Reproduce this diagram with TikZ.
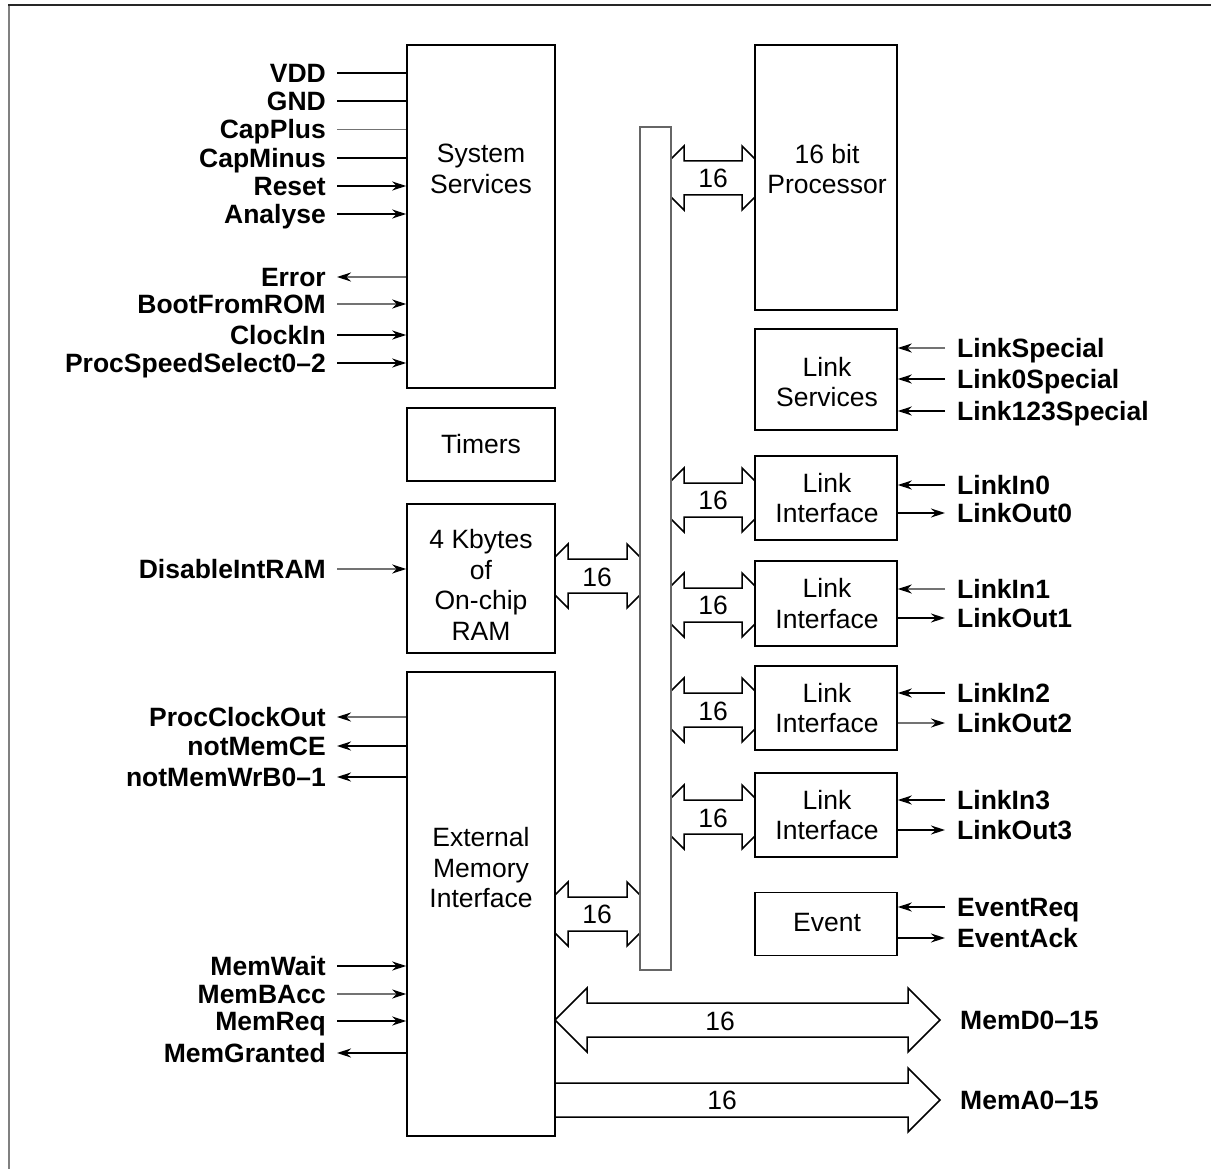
\documentclass[tikz,border=0pt]{standalone}
\usepackage{fontspec}
\setmainfont{Liberation Sans}
\usetikzlibrary{arrows.meta}
\newcommand\dblbus[4]{%
 \draw[bus] ({#1+#4-32},#3) -- ({#1+#4},{#3-32}) -- ({#1+#4},{#3-17}) -- ({#2-#4},{#3-17}) -- ({#2-#4},{#3-32}) -- ({#2-#4+32},#3) -- ({#2-#4},{#3+32}) -- ({#2-#4},{#3+17}) -- ({#1+#4},{#3+17}) -- ({#1+#4},{#3+32}) -- cycle;}
\begin{document}
\begin{tikzpicture}[x=1pt,y=-1pt,
  blk/.style={draw, line width=1.6pt, fill=white, inner sep=0pt},
  txt/.style={font=\fontsize{26.5}{30.5}\selectfont, align=center, inner sep=0pt},
  lbl/.style={font=\fontsize{26.5}{30.5}\selectfont\bfseries, inner sep=0pt, text height=19pt, text depth=0pt},
  lblL/.style={lbl, anchor=east},
  lblR/.style={lbl, anchor=west},
  num/.style={font=\fontsize{26.5}{30.5}\selectfont, inner sep=0pt, text height=19pt, text depth=0pt},
  sig/.style={line width=1.5pt},
  thinl/.style={line width=1.1pt, draw=black!55},
  sigin/.style={sig, -{Stealth[length=14pt,width=9pt,color=black]}},
  bus/.style={draw, line width=1.5pt, fill=white, line join=miter}
]
\useasboundingbox (0,0) rectangle (1211,1169);
% frame
\draw[line width=1.6pt, black!50] (9,5) -- (9,1169);
\draw[line width=1.6pt, black!85] (8,5) -- (1211,5);

% bus arrows (under boxes)
\dblbus{671}{755}{178}{13}
\dblbus{555}{640}{576}{13}
\dblbus{555}{640}{914}{13}
\dblbus{671}{755}{500}{13}
\dblbus{671}{755}{605}{13}
\dblbus{671}{755}{710}{13}
\dblbus{671}{755}{817}{13}
\dblbus{555}{940}{1020}{32}
\draw[bus] (555,1083) -- (908,1083) -- (908,1068) -- (940,1100) -- (908,1132) -- (908,1117) -- (555,1117);

% boxes
\node[blk, minimum width=148pt, minimum height=343pt] (sys) at (481,216.5) {};
\node[blk, minimum width=148pt, minimum height=73pt] (tim) at (481,444.5) {};
\node[blk, minimum width=148pt, minimum height=149pt] (ram) at (481,578.5) {};
\node[blk, minimum width=148pt, minimum height=464pt] (emi) at (481,904) {};
\node[draw=black!60, line width=1.2pt, fill=white, inner sep=0pt, minimum width=31pt, minimum height=843pt] (bar) at (655.5,548.5) {};
\node[blk, minimum width=142pt, minimum height=265pt] (proc) at (826,177.5) {};
\node[blk, minimum width=142pt, minimum height=101pt] (lsv) at (826,379.5) {};
\node[blk, minimum width=142pt, minimum height=84pt] (li0) at (826,498) {};
\node[blk, minimum width=142pt, minimum height=85pt] (li1) at (826,603.5) {};
\node[blk, minimum width=142pt, minimum height=84pt] (li2) at (826,708) {};
\node[blk, minimum width=142pt, minimum height=84pt] (li3) at (826,815) {};
\node[blk, minimum width=142pt, minimum height=63pt] (ev) at (826,924) {};

% box texts
\node[txt] (systx) at (481,169) {System\\Services};
\node[txt] (timtx) at (481,444.5) {Timers};
\node[txt] (ramtx) at (481,585) {4 Kbytes\\of\\On-chip\\RAM};
\node[txt] (emitx) at (481,868) {External\\Memory\\Interface};
\node[txt] (proctx) at (827,169) {16 bit\\Processor};
\node[txt] (lsvtx) at (827,382) {Link\\Services};
\node[txt] (li0tx) at (827,498) {Link\\Interface};
\node[txt] (li1tx) at (827,603.5) {Link\\Interface};
\node[txt] (li2tx) at (827,708) {Link\\Interface};
\node[txt] (li3tx) at (827,815) {Link\\Interface};
\node[txt] (evtx) at (827,923) {Event};

% bus widths
\node[num] (n1) at (713,178) {16};
\node[num] (n2) at (597,577) {16};
\node[num] (n3) at (597,914) {16};
\node[num] (n4) at (713,500) {16};
\node[num] (n5) at (713,605) {16};
\node[num] (n6) at (713,711) {16};
\node[num] (n7) at (713,818) {16};
\node[num] (n8) at (720,1021) {16};
\node[num] (n9) at (722,1100) {16};

% left labels: system services
\node[lblL] (vdd) at (326,73) {VDD};
\node[lblL] (gnd) at (326,101) {GND};
\node[lblL] (cpp) at (326,129.5) {CapPlus};
\node[lblL] (cpm) at (326,158) {CapMinus};
\node[lblL] (rst) at (326,186) {Reset};
\node[lblL] (ana) at (326,214) {Analyse};
\node[lblL] (err) at (326,277) {Error};
\node[lblL] (bfr) at (326,304) {BootFromROM};
\node[lblL] (clk) at (326,335) {ClockIn};
\node[lblL] (pss) at (326,363) {ProcSpeedSelect0–2};
\draw[sig] ([xshift=11pt]vdd.east) -- (vdd.east -| sys.west);
\draw[sig] ([xshift=11pt]gnd.east) -- (gnd.east -| sys.west);
\draw[thinl] ([xshift=11pt]cpp.east) -- (cpp.east -| sys.west);
\draw[sig] ([xshift=11pt]cpm.east) -- (cpm.east -| sys.west);
\draw[sigin] ([xshift=11pt]rst.east) -- (rst.east -| sys.west);
\draw[sigin] ([xshift=11pt]ana.east) -- (ana.east -| sys.west);
\draw[sigin, thinl] (err.east -| sys.west) -- ([xshift=11pt]err.east);
\draw[sigin, thinl] ([xshift=11pt]bfr.east) -- (bfr.east -| sys.west);
\draw[sigin] ([xshift=11pt]clk.east) -- (clk.east -| sys.west);
\draw[sigin] ([xshift=11pt]pss.east) -- (pss.east -| sys.west);

% RAM
\node[lblL] (dir) at (326,569) {DisableIntRAM};
\draw[sigin, thinl] ([xshift=11pt]dir.east) -- (dir.east -| ram.west);

% external memory interface
\node[lblL] (pco) at (326,717) {ProcClockOut};
\node[lblL] (mce) at (326,746) {notMemCE};
\node[lblL] (mwr) at (326,777) {notMemWrB0–1};
\node[lblL] (mwt) at (326,966) {MemWait};
\node[lblL] (mba) at (326,994) {MemBAcc};
\node[lblL] (mrq) at (326,1021) {MemReq};
\node[lblL] (mgr) at (326,1053) {MemGranted};
\draw[sigin, thinl] (pco.east -| emi.west) -- ([xshift=11pt]pco.east);
\draw[sigin] (mce.east -| emi.west) -- ([xshift=11pt]mce.east);
\draw[sigin] (mwr.east -| emi.west) -- ([xshift=11pt]mwr.east);
\draw[sigin] ([xshift=11pt]mwt.east) -- (mwt.east -| emi.west);
\draw[sigin, thinl] ([xshift=11pt]mba.east) -- (mba.east -| emi.west);
\draw[sigin] ([xshift=11pt]mrq.east) -- (mrq.east -| emi.west);
\draw[sigin] (mgr.east -| emi.west) -- ([xshift=11pt]mgr.east);

% right labels
\node[lblR] (lsp) at (957,348) {LinkSpecial};
\node[lblR] (l0s) at (957,379) {Link0Special};
\node[lblR] (l123) at (957,411) {Link123Special};
\draw[sigin, thinl] ([xshift=-12pt]lsp.west) -- (lsp.west -| lsv.east);
\draw[sigin] ([xshift=-12pt]l0s.west) -- (l0s.west -| lsv.east);
\draw[sigin] ([xshift=-12pt]l123.west) -- (l123.west -| lsv.east);

\node[lblR] (lin0) at (957,485) {LinkIn0};
\node[lblR] (lout0) at (957,513) {LinkOut0};
\node[lblR] (lin1) at (957,589) {LinkIn1};
\node[lblR] (lout1) at (957,618) {LinkOut1};
\node[lblR] (lin2) at (957,693) {LinkIn2};
\node[lblR] (lout2) at (957,723) {LinkOut2};
\node[lblR] (lin3) at (957,800) {LinkIn3};
\node[lblR] (lout3) at (957,830) {LinkOut3};
\draw[sigin] ([xshift=-12pt]lin0.west) -- (lin0.west -| li0.east);
\draw[sigin] (lout0.west -| li0.east) -- ([xshift=-12pt]lout0.west);
\draw[sigin, thinl] ([xshift=-12pt]lin1.west) -- (lin1.west -| li1.east);
\draw[sigin] (lout1.west -| li1.east) -- ([xshift=-12pt]lout1.west);
\draw[sigin] ([xshift=-12pt]lin2.west) -- (lin2.west -| li2.east);
\draw[sigin, thinl] (lout2.west -| li2.east) -- ([xshift=-12pt]lout2.west);
\draw[sigin] ([xshift=-12pt]lin3.west) -- (lin3.west -| li3.east);
\draw[sigin] (lout3.west -| li3.east) -- ([xshift=-12pt]lout3.west);

\node[lblR] (erq) at (957,907) {EventReq};
\node[lblR] (eak) at (957,938) {EventAck};
\draw[sigin] ([xshift=-12pt]erq.west) -- (erq.west -| ev.east);
\draw[sigin] (eak.west -| ev.east) -- ([xshift=-12pt]eak.west);

% memory buses
\node[lblR] (memd) at (960,1020) {MemD0–15};
\node[lblR] (mema) at (960,1100) {MemA0–15};
\end{tikzpicture}
\end{document}
